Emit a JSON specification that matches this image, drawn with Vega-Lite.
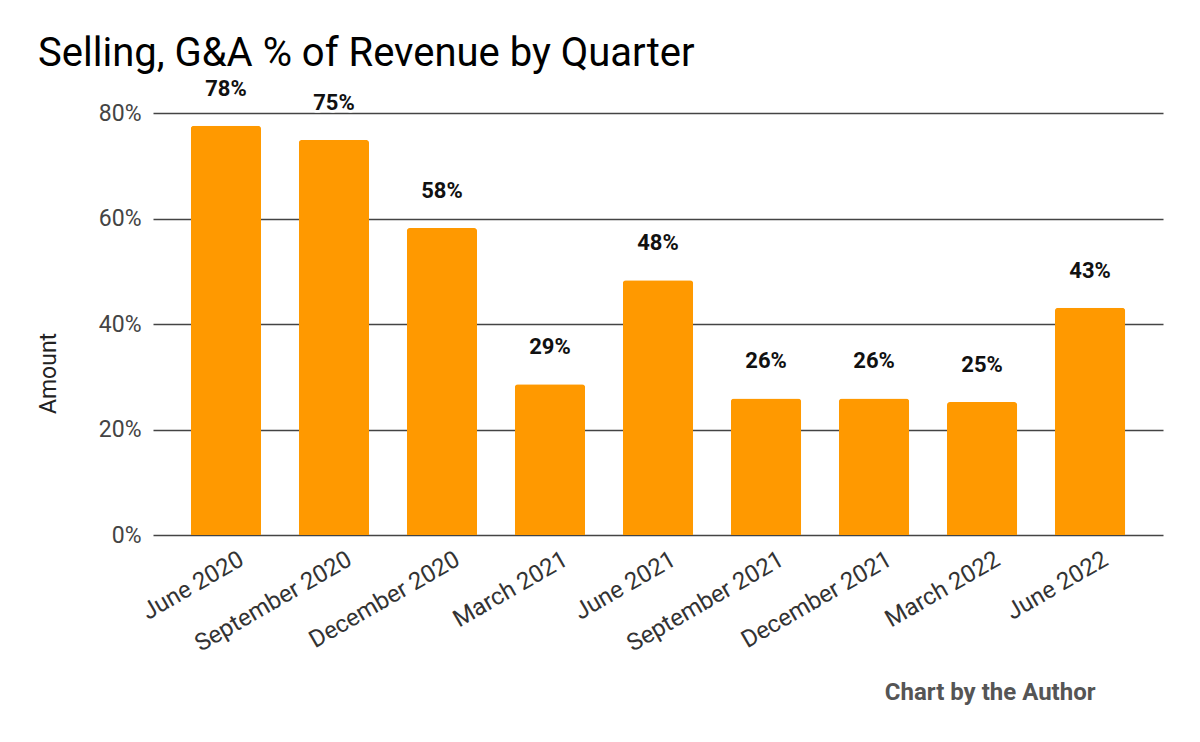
{
  "$schema": "https://vega.github.io/schema/vega-lite/v6.json",
  "width": 1010,
  "height": 422,
  "autosize": {"type": "none"},
  "padding": {"left": 153, "top": 113, "right": 37, "bottom": 207},
  "background": "white",
  "title": {
    "text": "Selling, G&A % of Revenue by Quarter",
    "anchor": "start",
    "frame": "group",
    "font": "Roboto",
    "fontSize": 40,
    "fontWeight": "normal",
    "color": "#000000",
    "dx": -115,
    "offset": 4
  },
  "config": {
    "view": {"stroke": null},
    "font": "Roboto"
  },
  "data": {
    "values": [
      {"quarter": "June 2020", "value": 0.776},
      {"quarter": "September 2020", "value": 0.749},
      {"quarter": "December 2020", "value": 0.582},
      {"quarter": "March 2021", "value": 0.286},
      {"quarter": "June 2021", "value": 0.483},
      {"quarter": "September 2021", "value": 0.259},
      {"quarter": "December 2021", "value": 0.259},
      {"quarter": "March 2022", "value": 0.252},
      {"quarter": "June 2022", "value": 0.431}
    ]
  },
  "encoding": {
    "x": {
      "field": "quarter",
      "type": "nominal",
      "sort": null,
      "scale": {"paddingInner": 0.35, "paddingOuter": 0.35},
      "axis": {
        "title": "Chart by the Author",
        "titleFont": "Roboto",
        "titleFontSize": 24,
        "titleFontWeight": "bold",
        "titleColor": "#555555",
        "titleAnchor": "start",
        "titleAlign": "right",
        "titleBaseline": "alphabetic",
        "titleX": 942,
        "titleY": 164,
        "domain": false,
        "ticks": false,
        "labelAngle": -30,
        "labelAlign": "right",
        "labelBaseline": "top",
        "labelPadding": 12,
        "labelOffset": 10,
        "labelFont": "Roboto",
        "labelFontSize": 24,
        "labelColor": "#333333",
        "labelOverlap": false
      }
    },
    "y": {
      "field": "value",
      "type": "quantitative",
      "scale": {"domain": [0, 0.8], "nice": false},
      "axis": {
        "title": "Amount",
        "titleFont": "Roboto",
        "titleFontSize": 23,
        "titleFontWeight": "normal",
        "titleColor": "#222222",
        "titleAngle": -90,
        "titleAlign": "center",
        "titleBaseline": "middle",
        "titleX": -105,
        "titleY": 260,
        "format": ".0%",
        "values": [0, 0.2, 0.4, 0.6, 0.8],
        "domain": false,
        "ticks": false,
        "labelPadding": 12,
        "labelFont": "Roboto",
        "labelFontSize": 23,
        "labelColor": "#444444",
        "grid": true,
        "gridColor": "#444444",
        "gridWidth": 1.6
      }
    }
  },
  "layer": [
    {
      "mark": {"type": "bar", "color": "#FF9900", "cornerRadiusTopLeft": 3, "cornerRadiusTopRight": 3}
    },
    {
      "mark": {"type": "text", "font": "Roboto", "fontSize": 22, "fontWeight": "bold", "baseline": "alphabetic", "dy": -30, "stroke": "white", "strokeWidth": 5, "strokeJoin": "round", "color": "white"},
      "encoding": {"text": {"field": "value", "type": "quantitative", "format": ".0%"}}
    },
    {
      "mark": {"type": "text", "font": "Roboto", "fontSize": 22, "fontWeight": "bold", "baseline": "alphabetic", "dy": -30, "color": "#111111"},
      "encoding": {"text": {"field": "value", "type": "quantitative", "format": ".0%"}}
    }
  ]
}
